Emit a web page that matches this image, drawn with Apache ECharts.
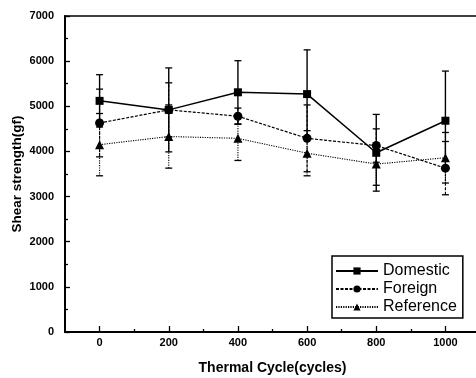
<!DOCTYPE html>
<html>
<head>
<meta charset="utf-8">
<script src="https://cdn.jsdelivr.net/npm/echarts@6.0.0/dist/echarts.min.js"></script>
<style>
  html, body { margin: 0; padding: 0; background: #fff; }
  #chart { width: 476px; height: 378px; }
</style>
</head>
<body>
<div id="chart"></div>
<script>
const cycles = [0, 200, 400, 600, 800, 1000];
const domestic = [5120, 4920, 5310, 5270, 3970, 4680];
const domesticErr = [580, 930, 700, 980, 850, 1100];
const foreign = [4630, 4920, 4780, 4290, 4130, 3630];
const foreignErr = [750, 600, 180, 740, 370, 590];
const reference = [4150, 4330, 4290, 3960, 3720, 3860];
const referenceErr = [690, 700, 490, 500, 470, 560];
const xTicks = [0, 200, 400, 600, 800, 1000];
const xMinorTicks = [100, 300, 500, 700, 900];

const font = '"Liberation Sans", Arial, sans-serif';
const tickFont = '"Liberation Sans Narrow", "Liberation Sans", Arial, sans-serif';

function pairs(vals) {
  return cycles.map((c, i) => [c, vals[i]]);
}
function bars(vals, errs) {
  return cycles.map((c, i) => [c, vals[i] - errs[i], vals[i] + errs[i]]);
}

function errRender(dash, width) {
  return function (params, api) {
    const x = api.value(0);
    const lo = api.coord([x, api.value(1)]);
    const hi = api.coord([x, api.value(2)]);
    const style = { stroke: '#000', lineWidth: width, lineDash: dash };
    const w = 3.5;
    return {
      type: 'group',
      children: [
        { type: 'line', shape: { x1: lo[0], y1: lo[1], x2: hi[0], y2: hi[1] }, style: style },
        { type: 'line', shape: { x1: lo[0] - w, y1: lo[1], x2: lo[0] + w, y2: lo[1] }, style: { stroke: '#000', lineWidth: 1.3 } },
        { type: 'line', shape: { x1: hi[0] - w, y1: hi[1], x2: hi[0] + w, y2: hi[1] }, style: { stroke: '#000', lineWidth: 1.3 } }
      ]
    };
  };
}

const chart = echarts.init(document.getElementById('chart'));

chart.setOption({
  animation: false,
  backgroundColor: '#fff',
  textStyle: { fontFamily: font },
  grid: {
    left: 65, top: 16, bottom: 46, right: -4,
    outerBoundsMode: 'none',
    show: true, borderColor: '#000', borderWidth: 1.5
  },
  legend: {
    data: ['Domestic', 'Foreign', 'Reference'],
    orient: 'vertical',
    left: 332, top: 256,
    padding: [7, 6, 3, 3],
    itemGap: 2,
    itemWidth: 42,
    itemHeight: 9,
    borderColor: '#000',
    borderWidth: 1.5,
    backgroundColor: '#fff',
    textStyle: { fontFamily: font, fontSize: 16, color: '#000', lineHeight: 16 }
  },
  xAxis: [
    {
      type: 'value', min: -100, max: 1100,
      name: 'Thermal Cycle(cycles)', nameLocation: 'middle', nameGap: 29,
      nameMoveOverlap: false,
      nameTextStyle: { fontFamily: font, fontSize: 14, fontWeight: 'bold', color: '#000' },
      axisLine: { onZero: false, lineStyle: { color: '#000', width: 2 } },
      axisTick: { inside: true, length: 6, customValues: xTicks, lineStyle: { color: '#000', width: 1.3 } },
      axisLabel: { customValues: xTicks, formatter: (v) => String(v), fontFamily: tickFont, fontSize: 11, fontWeight: 'bold', color: '#000', margin: 5 },
      splitLine: { show: false }
    },
    {
      type: 'value', min: -100, max: 1100, position: 'bottom',
      axisLine: { show: false, onZero: false },
      axisTick: { inside: true, length: 3, customValues: xMinorTicks, lineStyle: { color: '#000', width: 1.3 } },
      axisLabel: { show: false },
      splitLine: { show: false }
    }
  ],
  yAxis: {
    type: 'value', min: 0, max: 7000, interval: 1000,
    name: 'Shear strength(gf)', nameLocation: 'middle', nameGap: 41,
    nameMoveOverlap: false,
    nameTextStyle: { fontFamily: font, fontSize: 13.5, fontWeight: 'bold', color: '#000' },
    axisLine: { show: true, onZero: false, lineStyle: { color: '#000', width: 2 } },
    axisTick: { inside: true, length: 5, lineStyle: { color: '#000', width: 1.3 } },
    minorTick: { show: true, splitNumber: 2, length: 3, lineStyle: { color: '#000', width: 1.3 } },
    axisLabel: { formatter: (v) => String(v), fontFamily: tickFont, fontSize: 11, fontWeight: 'bold', color: '#000', margin: 11 },
    splitLine: { show: false }
  },
  series: [
    {
      name: 'Domestic-err', type: 'custom', renderItem: errRender(null, 1.4),
      data: bars(domestic, domesticErr), encode: { x: 0, y: [1, 2] }, z: 1
    },
    {
      name: 'Foreign-err', type: 'custom', renderItem: errRender([3, 1.5], 1.1),
      data: bars(foreign, foreignErr), encode: { x: 0, y: [1, 2] }, z: 1
    },
    {
      name: 'Reference-err', type: 'custom', renderItem: errRender([1.2, 1.2], 1.1),
      data: bars(reference, referenceErr), encode: { x: 0, y: [1, 2] }, z: 1
    },
    {
      name: 'Domestic', type: 'line', data: pairs(domestic),
      symbol: 'rect', symbolSize: 8,
      itemStyle: { color: '#000' },
      lineStyle: { color: '#000', width: 1.5, type: 'solid' }, z: 3
    },
    {
      name: 'Foreign', type: 'line', data: pairs(foreign),
      symbol: 'circle', symbolSize: 9,
      itemStyle: { color: '#000' },
      lineStyle: { color: '#000', width: 1.2, type: [3, 1.5] }, z: 3
    },
    {
      name: 'Reference', type: 'line', data: pairs(reference),
      symbol: 'triangle', symbolSize: 9,
      itemStyle: { color: '#000' },
      lineStyle: { color: '#000', width: 1.1, type: [1.2, 1.2] }, z: 3
    }
  ]
});
</script>
</body>
</html>
